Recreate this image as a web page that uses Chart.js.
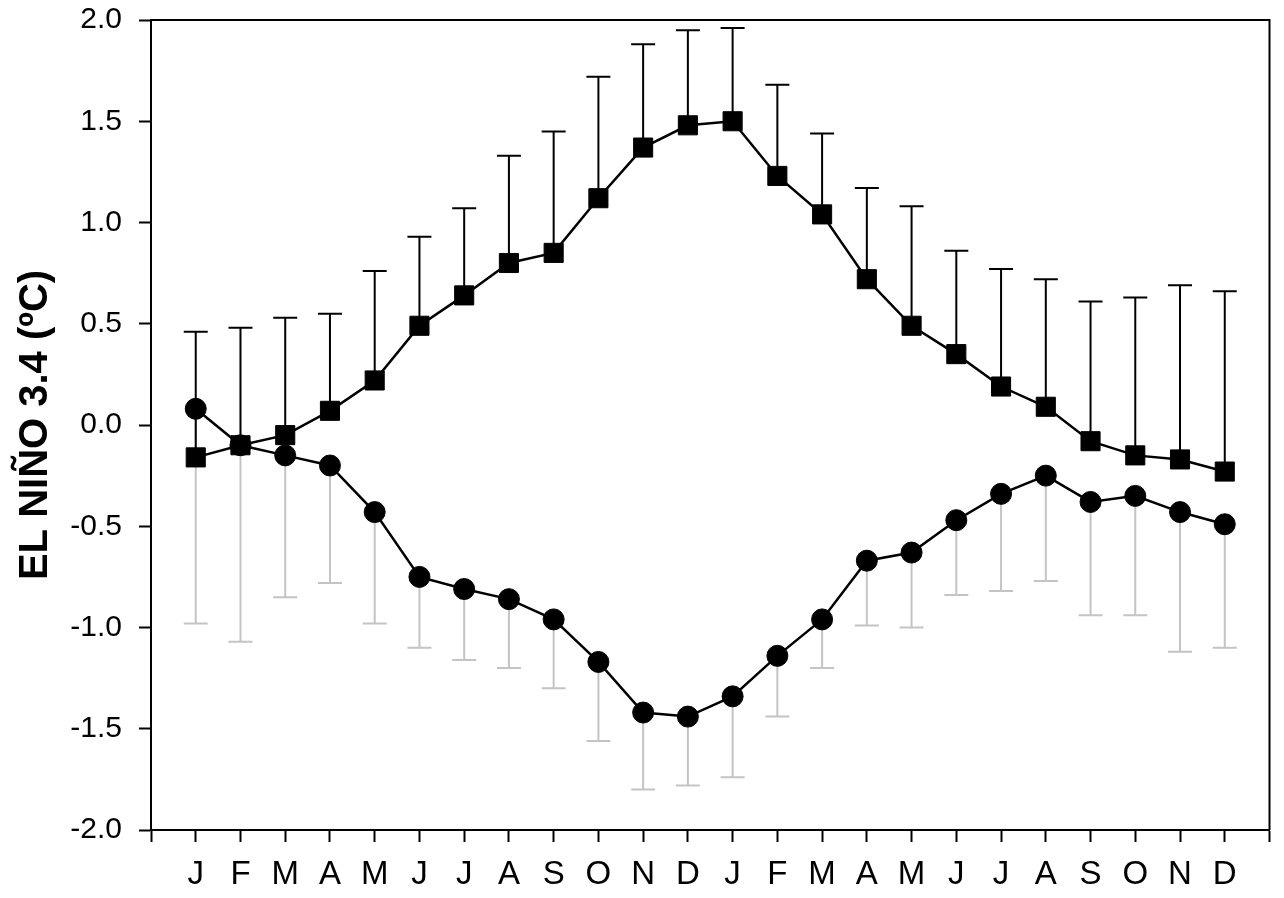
<!DOCTYPE html>
<html>
<head>
<meta charset="utf-8">
<script src="https://cdn.jsdelivr.net/npm/chart.js@4"></script>
<style>
  html, body { margin: 0; padding: 0; background: #fff; }
  #wrap { width: 1284px; height: 898px; }
</style>
</head>
<body>
<div id="wrap"><canvas id="chart"></canvas></div>
<script>
// month labels, two consecutive years
const months = ["J", "F", "M", "A", "M", "J", "J", "A", "S", "O", "N", "D",
                "J", "F", "M", "A", "M", "J", "J", "A", "S", "O", "N", "D"];

// El Niño composite (squares) and top of its error bar
const elNino = [-0.16, -0.10, -0.05, 0.07, 0.22, 0.49, 0.64, 0.80, 0.85, 1.12, 1.37, 1.48,
                1.50, 1.23, 1.04, 0.72, 0.49, 0.35, 0.19, 0.09, -0.08, -0.15, -0.17, -0.23];
const elNinoUpper = [0.46, 0.48, 0.53, 0.55, 0.76, 0.93, 1.07, 1.33, 1.45, 1.72, 1.88, 1.95,
                     1.96, 1.68, 1.44, 1.17, 1.08, 0.86, 0.77, 0.72, 0.61, 0.63, 0.69, 0.66];

// La Niña composite (circles) and bottom of its error bar
const laNina = [0.08, -0.10, -0.15, -0.20, -0.43, -0.75, -0.81, -0.86, -0.96, -1.17, -1.42, -1.44,
                -1.34, -1.14, -0.96, -0.67, -0.63, -0.47, -0.34, -0.25, -0.38, -0.35, -0.43, -0.49];
const laNinaLower = [-0.98, -1.07, -0.85, -0.78, -0.98, -1.10, -1.16, -1.20, -1.30, -1.56, -1.80, -1.78,
                     -1.74, -1.44, -1.20, -0.99, -1.00, -0.84, -0.82, -0.77, -0.94, -0.94, -1.12, -1.10];

const yMin = -2.0, yMax = 2.0, yStep = 0.5;

Chart.defaults.font.family = "'Liberation Sans', Arial, sans-serif";
Chart.defaults.color = "#000";

function points(vals) {
  return vals.map((v, i) => ({ x: i, y: v }));
}

// whiskers + caps, drawn under the markers
const errorBars = {
  id: "errorBars",
  beforeDatasetsDraw(chart) {
    const ctx = chart.ctx;
    const xs = chart.scales.x, ys = chart.scales.y;
    chart.data.datasets.forEach(ds => {
      ctx.save();
      ctx.strokeStyle = ds.errColor;
      ctx.lineWidth = 2;
      ds.data.forEach((p, i) => {
        const x = xs.getPixelForValue(p.x);
        const y0 = ys.getPixelForValue(p.y);
        const y1 = ys.getPixelForValue(ds.errTo[i]);
        ctx.beginPath();
        ctx.moveTo(x, y0);
        ctx.lineTo(x, y1);
        ctx.moveTo(x - 12, y1);
        ctx.lineTo(x + 12, y1);
        ctx.stroke();
      });
      ctx.restore();
    });
  }
};

// top and right side of the box
const frame = {
  id: "frame",
  beforeDatasetsDraw(chart) {
    const { ctx, chartArea: a } = chart;
    ctx.save();
    ctx.strokeStyle = "#000";
    ctx.lineWidth = 2;
    ctx.beginPath();
    ctx.moveTo(a.left, a.top);
    ctx.lineTo(a.right, a.top);
    ctx.lineTo(a.right, a.bottom);
    ctx.stroke();
    ctx.restore();
  }
};

const ctx = document.getElementById("chart").getContext("2d");
new Chart(ctx, {
  type: "line",
  data: {
    datasets: [
      {
        label: "La Niña",
        data: points(laNina),
        errTo: laNinaLower,
        errColor: "#c4c4c4",
        borderColor: "#000",
        borderWidth: 2.5,
        pointStyle: "circle",
        pointRadius: 10.5,
        pointBackgroundColor: "#000",
        pointBorderColor: "#000",
        pointBorderWidth: 1,
        tension: 0
      },
      {
        label: "El Niño",
        data: points(elNino),
        errTo: elNinoUpper,
        errColor: "#000",
        borderColor: "#000",
        borderWidth: 2.5,
        pointStyle: "rect",
        pointRadius: 13.5,
        pointBackgroundColor: "#000",
        pointBorderColor: "#000",
        pointBorderWidth: 1,
        tension: 0
      }
    ]
  },
  options: {
    responsive: true,
    maintainAspectRatio: false,
    animation: false,
    devicePixelRatio: 1,
    layout: { padding: { top: 20, right: 5, left: 0, bottom: 0 } },
    plugins: { legend: { display: false }, tooltip: { enabled: false } },
    scales: {
      x: {
        type: "linear",
        min: -1,
        max: months.length,
        afterFit: s => {
          s.height = 68;
          s.paddingLeft = 0;
          s.paddingRight = 0;
        },
        ticks: {
          stepSize: 1,
          autoSkip: false,
          maxTicksLimit: 40,
          maxRotation: 0,
          padding: 13,
          font: { size: 33 },
          callback: v => months[v] || ""
        },
        grid: { drawOnChartArea: false, tickLength: 12, tickWidth: 2, tickColor: "#000" },
        border: { color: "#000", width: 2 }
      },
      y: {
        min: yMin,
        max: yMax,
        afterFit: s => {
          s.width = 151;
          s.paddingTop = 0;
          s.paddingBottom = 0;
        },
        ticks: {
          stepSize: yStep,
          padding: 17,
          font: { size: 30 },
          callback: v => v.toFixed(1)
        },
        grid: { drawOnChartArea: false, tickLength: 12, tickWidth: 2, tickColor: "#000" },
        border: { color: "#000", width: 2 },
        title: {
          display: true,
          text: "EL NIÑO 3.4 (ºC)",
          font: { size: 40, weight: "bold" },
          padding: { top: 12, bottom: 0 }
        }
      }
    }
  },
  plugins: [errorBars, frame]
});
</script>
</body>
</html>
